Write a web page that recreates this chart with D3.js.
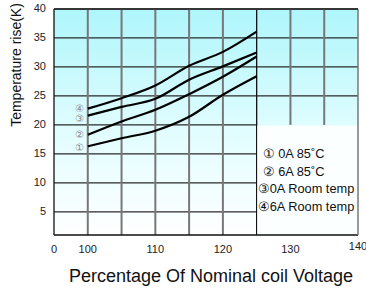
<!DOCTYPE html>
<html>
<head>
<meta charset="utf-8">
<script src="https://cdn.jsdelivr.net/npm/d3@7"></script>
<style>
  body { margin: 0; background: #fff; }
  svg { display: block; font-family: Arial, "Liberation Sans", sans-serif; }
</style>
</head>
<body>
<div id="chart"></div>
<script>
// Percentage of nominal coil voltage
const voltage = [100, 105, 110, 115, 120, 125];

// Temperature rise (K) for each curve
const roomTemp6A = [22.8, 24.6, 26.8, 30.2, 32.6, 36.1];
const roomTemp0A = [21.6, 23.1, 24.5, 27.8, 30.1, 32.5];
const hot6A = [18.3, 20.6, 22.6, 25.3, 28.3, 31.8];
const hot0A = [16.3, 17.7, 19.0, 21.4, 25.2, 28.4];

const yTicks = [5, 10, 15, 20, 25, 30, 35, 40];
const xTicks = [100, 110, 120, 130, 140];
const xGrid = [100, 105, 110, 115, 120, 125, 130, 135];

const curveMarks = ["④", "③", "②", "①"];
const legendItems = ["① 0A 85˚C", "② 6A 85˚C", "③0A Room temp", "④6A Room temp"];

const series = [roomTemp6A, roomTemp0A, hot6A, hot0A];

const width = 366, height = 288;
const margin = { top: 9, right: 8, bottom: 53, left: 54 };
const plotW = width - margin.left - margin.right;
const plotH = height - margin.top - margin.bottom;

const svg = d3.select("#chart").append("svg")
  .attr("width", width)
  .attr("height", height);

// Background gradient
const defs = svg.append("defs");
const grad = defs.append("linearGradient")
  .attr("id", "bg").attr("x1", 0).attr("y1", 0).attr("x2", 0).attr("y2", 1);
grad.append("stop").attr("offset", "0%").attr("stop-color", "#aef6fb");
grad.append("stop").attr("offset", "55%").attr("stop-color", "#e2fdff");
grad.append("stop").attr("offset", "100%").attr("stop-color", "#ffffff");

const g = svg.append("g")
  .attr("transform", `translate(${margin.left},${margin.top})`);

const x = d3.scaleLinear().domain([95, 140]).range([0, plotW]);
const y = d3.scaleLinear().domain([1, 40]).range([plotH, 0]);

g.append("rect")
  .attr("width", plotW).attr("height", plotH)
  .attr("fill", "url(#bg)");

// Legend box area (covers the grid)
const legendTop = y(20);
const legendLeft = x(125);

// Horizontal grid
g.selectAll(".hgrid")
  .data(yTicks)
  .enter().append("line")
  .attr("x1", 0)
  .attr("x2", d => d <= 20 ? legendLeft : plotW)
  .attr("y1", d => y(d)).attr("y2", d => y(d))
  .attr("stroke", "#2a2a2a").attr("stroke-width", 1.3);

// Vertical grid
g.selectAll(".vgrid")
  .data(xGrid)
  .enter().append("line")
  .attr("x1", d => x(d)).attr("x2", d => x(d))
  .attr("y1", 0)
  .attr("y2", d => d > 125 ? legendTop : plotH)
  .attr("stroke", d => d === 125 ? "#111" : "#777")
  .attr("stroke-width", d => d === 125 ? 1.3 : 2);

// Legend background
g.append("rect")
  .attr("x", legendLeft + 0.7).attr("y", legendTop + 0.7)
  .attr("width", plotW - legendLeft - 0.7).attr("height", plotH - legendTop - 0.7)
  .attr("fill", "#fbffff");

// Plot border
g.append("line").attr("x1", 0).attr("x2", 0).attr("y1", 0).attr("y2", plotH)
  .attr("stroke", "#111").attr("stroke-width", 1.3);
g.append("line").attr("x1", 0).attr("x2", plotW).attr("y1", plotH).attr("y2", plotH)
  .attr("stroke", "#111").attr("stroke-width", 1.5);
g.append("line").attr("x1", plotW).attr("x2", plotW).attr("y1", 0).attr("y2", plotH)
  .attr("stroke", "#777").attr("stroke-width", 1.5);
g.append("line").attr("x1", 0).attr("x2", plotW).attr("y1", 0).attr("y2", 0)
  .attr("stroke", "#2a2a2a").attr("stroke-width", 1.3);

// Curves
const line = d3.line()
  .x((d, i) => x(voltage[i]))
  .y(d => y(d))
  .curve(d3.curveMonotoneX);

g.selectAll(".curve")
  .data(series)
  .enter().append("path")
  .attr("fill", "none")
  .attr("stroke", "#000")
  .attr("stroke-width", 2.2)
  .attr("d", line);

// Circled markers next to curve starts
g.selectAll(".mark")
  .data(series)
  .enter().append("text")
  .attr("x", x(100) - 8)
  .attr("y", (d, i) => y(d[0]) + [1, 4, 1, 2][i])
  .attr("text-anchor", "middle")
  .attr("dominant-baseline", "middle")
  .attr("font-size", 9.5)
  .attr("fill", "#888")
  .text((d, i) => curveMarks[i]);

// Y tick labels
g.selectAll(".ylab")
  .data(yTicks)
  .enter().append("text")
  .attr("x", -8)
  .attr("y", d => y(d))
  .attr("text-anchor", "end")
  .attr("dominant-baseline", "middle")
  .attr("font-size", 11)
  .attr("fill", "#222")
  .text(d => d);

// X tick labels
g.selectAll(".xlab")
  .data(xTicks)
  .enter().append("text")
  .attr("x", d => x(d))
  .attr("y", d => d === 140 ? plotH + 15 : plotH + 18)
  .attr("text-anchor", "middle")
  .attr("font-size", 11)
  .attr("fill", "#222")
  .text(d => d);

g.append("text")
  .attr("x", x(95))
  .attr("y", plotH + 18)
  .attr("text-anchor", "middle")
  .attr("font-size", 11)
  .attr("fill", "#222")
  .text("0");

// Legend
g.selectAll(".leg")
  .data(legendItems)
  .enter().append("text")
  .attr("x", (d, i) => i < 2 ? legendLeft + 6 : legendLeft + 1)
  .attr("y", (d, i) => legendTop + 30 + i * 17.5)
  .attr("dominant-baseline", "middle")
  .attr("font-size", 12.8)
  .attr("fill", "#111")
  .text(d => d);

// Axis titles
svg.append("text")
  .attr("transform", `translate(21,${65}) rotate(-90)`)
  .attr("text-anchor", "middle")
  .attr("font-size", 14)
  .attr("fill", "#111")
  .text("Temperature rise(K)");

svg.append("text")
  .attr("x", 211)
  .attr("y", 282)
  .attr("text-anchor", "middle")
  .attr("font-size", 18)
  .attr("fill", "#111")
  .text("Percentage Of Nominal coil Voltage");
</script>
</body>
</html>
